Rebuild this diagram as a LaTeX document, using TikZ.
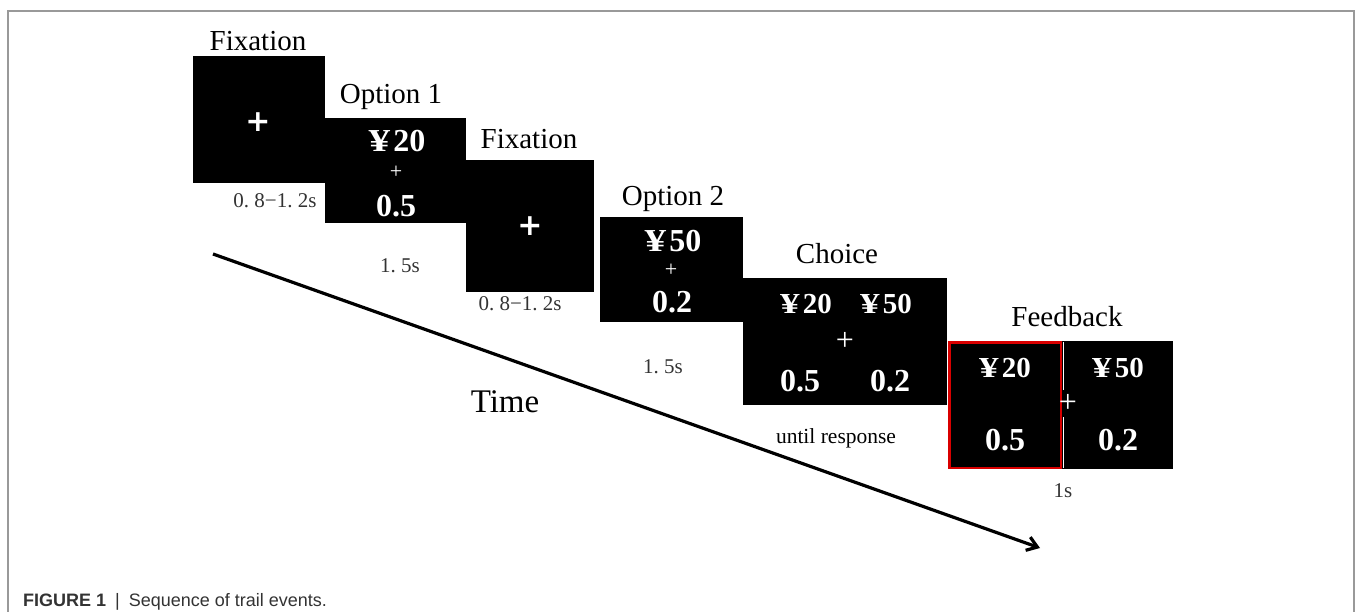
\documentclass[tikz,border=0pt]{standalone}
\usepackage{fontspec}
\setmainfont{Liberation Serif}
\newfontfamily\capfont{Liberation Sans}
\newfontfamily\plusfont{DejaVu Sans}
\usetikzlibrary{arrows.meta}
\newcommand{\yen}[1]{\scalebox{1.35}[1]{¥}\hspace{3pt}#1}
\tikzset{
  screen/.style={fill=black, inner sep=0pt, anchor=north west},
  title/.style={font=\fontsize{29}{32}\selectfont, inner sep=0pt},
  dur/.style={font=\fontsize{21}{24}\selectfont, text=black!80, inner sep=0pt},
  val/.style={font=\fontsize{32}{35}\selectfont\bfseries, text=white, inner sep=0pt},
  sval/.style={font=\fontsize{29}{32}\selectfont\bfseries, text=white, inner sep=0pt},
  smallplus/.style={font=\fontsize{22}{24}\selectfont, text=white, inner sep=0pt},
  bigplus/.style={font=\plusfont\fontsize{30}{32}\selectfont\bfseries, text=white, inner sep=0pt},
  midplus/.style={font=\fontsize{32}{34}\selectfont, text=white, inner sep=0pt},
}
\begin{document}
\begin{tikzpicture}[x=1pt,y=-1pt]
\useasboundingbox (0,0) rectangle (1356,612);
% frame
\draw[black!40, line width=1.6pt] (8,615) -- (8,11) -- (1354,11) -- (1354,615);
% screens
\node[screen, minimum width=132pt, minimum height=127pt] (fix1) at (193,56) {};
\node[screen, minimum width=141pt, minimum height=105pt] (opt1) at (325,118) {};
\node[screen, minimum width=128pt, minimum height=132pt] (fix2) at (466,160) {};
\node[screen, minimum width=143pt, minimum height=105pt] (opt2) at (600,217) {};
\node[screen, minimum width=204pt, minimum height=127pt] (cho) at (743,278) {};
\node[screen, minimum width=225pt, minimum height=128pt] (fb) at (948,341) {};
\draw[white, line width=1pt] (1063,342) -- (1063,390) (1063,417) -- (1063,468);
\draw[red!85!black, line width=2.6pt] (949.5,342.3) rectangle (1061,468);
% titles
\node[title] (t1) at (258,41) {Fixation};
\node[title] (t2) at (391,97) {Option 1};
\node[title] (t3) at (529,139) {Fixation};
\node[title] (t4) at (673,199) {Option 2};
\node[title] (t5) at (837,254) {Choice};
\node[title] (t6) at (1067,317) {Feedback};
% contents
\node[bigplus] (p1) at (258,122) {+};
\node[val] (o1a) at (397,141) {\yen{20}};
\node[smallplus] (o1p) at (396,172) {+};
\node[val] (o1b) at (396,206) {0.5};
\node[bigplus] (p2) at (530,226) {+};
\node[val] (o2a) at (673,241) {\yen{50}};
\node[smallplus] (o2p) at (671,270) {+};
\node[val] (o2b) at (672,302) {0.2};
\node[sval] (c1) at (806,304) {\yen{20}};
\node[sval] (c2) at (886,304) {\yen{50}};
\node[midplus] (cp) at (845,341) {+};
\node[val] (c3) at (800,381) {0.5};
\node[val] (c4) at (890,381) {0.2};
\node[sval] (f1) at (1005,368) {\yen{20}};
\node[sval] (f2) at (1118,368) {\yen{50}};
\node[midplus] (fp) at (1068,403) {+};
\node[val] (f3) at (1005,440) {0.5};
\node[val] (f4) at (1118,440) {0.2};
% durations
\node[dur] (d1) at (275,201) {0.\ 8−1.\ 2s};
\node[dur] (d2) at (400,266) {1.\ 5s};
\node[dur] (d3) at (520,304) {0.\ 8−1.\ 2s};
\node[dur] (d4) at (663,367) {1.\ 5s};
\node[dur, text=black, font=\fontsize{21.5}{24}\selectfont] (d5) at (836,438) {until response};
\node[dur] (d6) at (1063,491) {1s};
% time arrow
\coordinate (ts) at (213,254);
\coordinate (te) at (1040,548);
\draw[line width=3.2pt, -{Straight Barb[length=10pt,width=14pt]}] (ts) -- (te);
\node[font=\fontsize{33}{36}\selectfont, inner sep=0pt] (time) at (505,402) {Time};
% caption
\node[anchor=west, inner sep=0pt, font=\capfont\fontsize{18}{20}\selectfont, text=black!80] (cap) at (23,602) {\textbf{FIGURE 1}\enspace|\enspace Sequence of trail events.};
\end{tikzpicture}
\end{document}
